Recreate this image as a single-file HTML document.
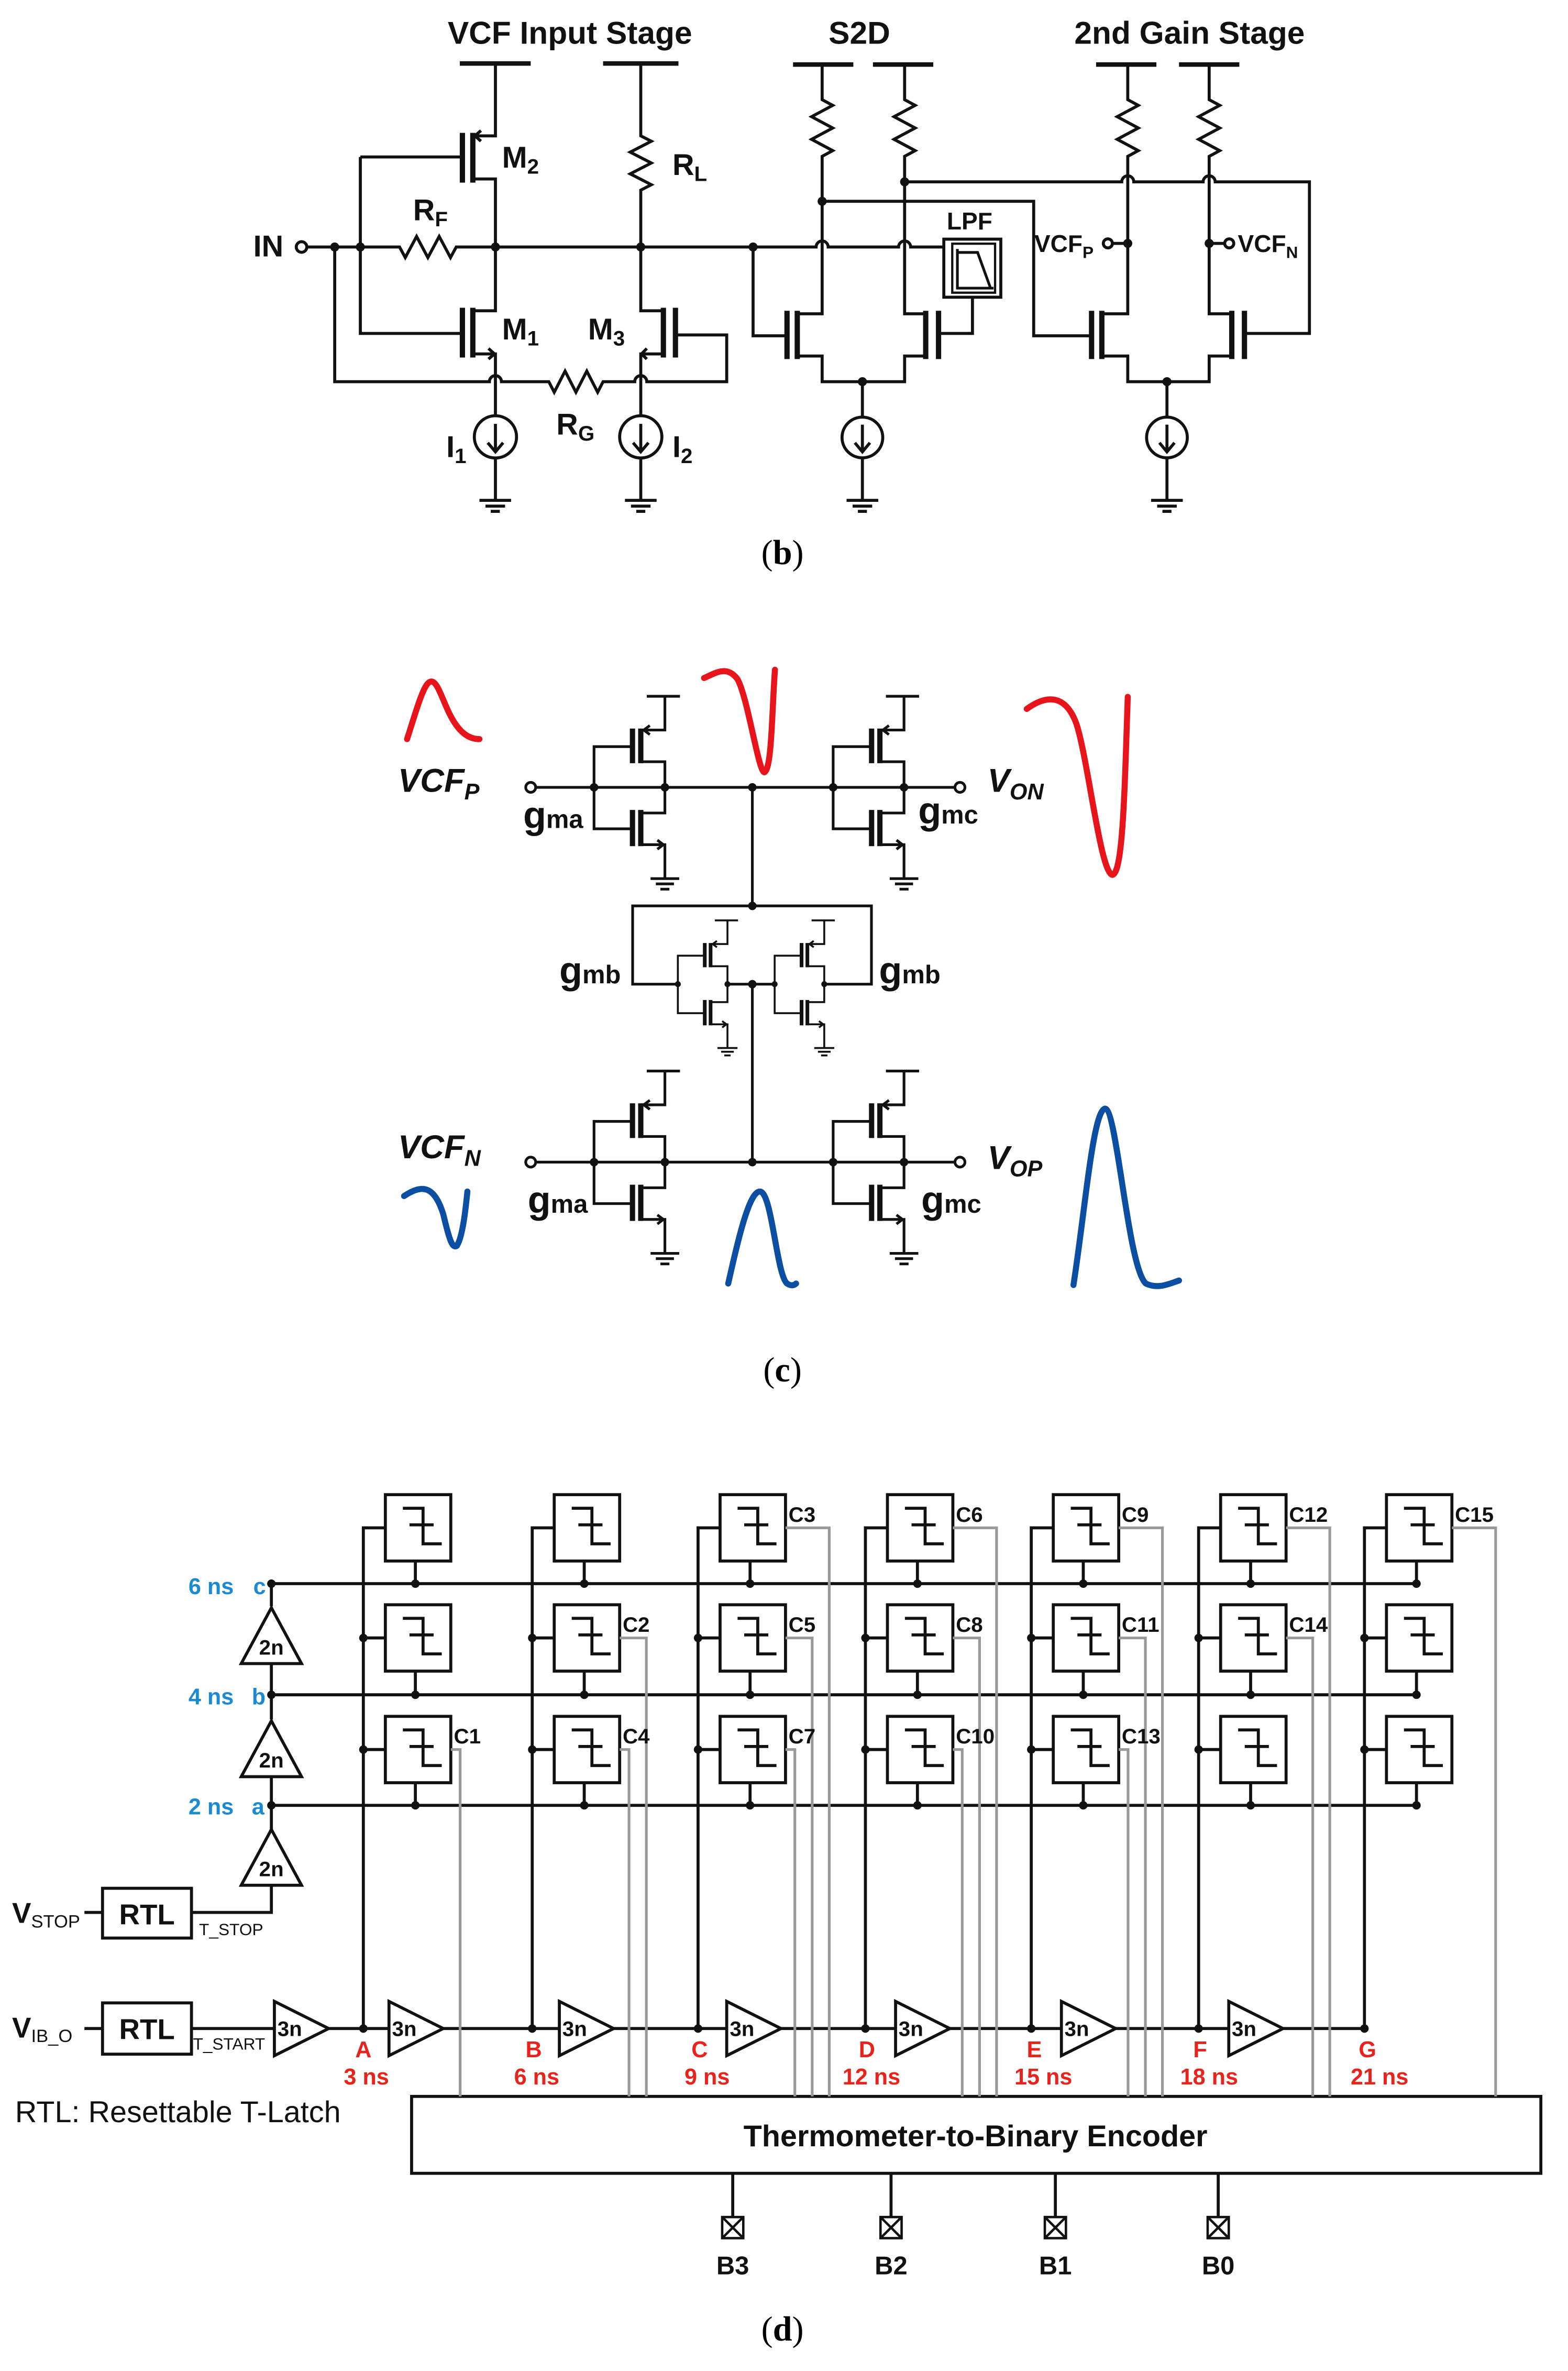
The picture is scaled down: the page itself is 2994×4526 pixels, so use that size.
<!DOCTYPE html>
<html><head><meta charset="utf-8"><style>
html,body{margin:0;padding:0;background:#fff}
svg{display:block}
text{font-family:"Liberation Sans",Arial,sans-serif}
.b{font-weight:bold}
.cap{font-family:"Liberation Serif",serif;font-size:23px}
</style></head><body>
<svg width="2994" height="4526" viewBox="0 0 1040 1572" xmlns="http://www.w3.org/2000/svg">
<defs>
<g id="inv">
 <path d="M-12,-60.4 H10 M0,-60.4 V-38 H-16 M-16,-17 H0 V17 H-16 M-16,38 H0 V60.5 M-21.5,-27 H-47 V27.5 H-21.5 M-9.5,60.5 H9.5 M-6,64 H6 M-3,67.5 H3 M-10,-41 L-14,-38 L-10,-35 M-5,35 L-1,38 L-5,41"/>
 <path d="M-16,-39 V-16 M-21.5,-39 V-16 M-16,15 V39 M-21.5,15 V39" stroke-width="3.5"/>
 <circle cx="0" cy="0" r="2.8" fill="#111" stroke="none"/>
 <circle cx="-47" cy="0" r="2.8" fill="#111" stroke="none"/>
</g>
<g id="lat">
 <rect x="0" y="0" width="43.4" height="44"/>
 <path d="M11.6,9 H25 V32.6 H37.4 M16,20 H32"/>
</g>
<g id="col">
 <path d="M0,1345 V1013 H14.6 M0,1086 H14.6 M0,1160 H14.6 M34.5,1035 V1050 M34.5,1108 V1123.7 M34.5,1182 V1197"/>
 <use href="#lat" x="14.6" y="991"/>
 <use href="#lat" x="14.6" y="1064"/>
 <use href="#lat" x="14.6" y="1138"/>
 <g fill="#111" stroke="none">
 <circle cx="0" cy="1086" r="2.8"/><circle cx="0" cy="1160" r="2.8"/><circle cx="0" cy="1345" r="2.8"/>
 <circle cx="34.5" cy="1050" r="2.8"/><circle cx="34.5" cy="1123.7" r="2.8"/><circle cx="34.5" cy="1197" r="2.8"/>
 </g>
</g>
<polygon id="tri" points="0,-18 36,0 0,18" fill="#fff"/>
<polygon id="trU" points="-20,0 20,0 0,-37" fill="#fff"/>
</defs>

<!-- ===== (b) ===== -->
<g stroke="#111" stroke-width="2" fill="none">
 <path d="M305,42 H352 M400,42 H450 M526,42.7 H566 M579,42.7 H619 M727,42.7 H767 M782,42.7 H822" stroke-width="3"/>
 <!-- M2 -->
 <path d="M328.6,42 V90 H313.6 M313.6,118.6 H328.6 V163.7 M319,86.5 L315,90 L319,93.5"/>
 <path d="M313.6,88 V121 M306.7,88 V121 M313.6,204 V237 M306.7,204 V237 M440,204 V237 M448,204 V237" stroke-width="3.5"/>
 <path d="M239,104 H306.7 M239,104 V221 H306.7"/>
 <!-- M1 -->
 <path d="M328.6,163.7 V206 H313.6 M313.6,234.6 H328.6 V275.6 M324,231 L328,234.6 L324,238"/>
 <circle cx="328.6" cy="289.6" r="14"/>
 <path d="M328.6,281 V299 M323.5,293.5 L328.6,299.5 L333.7,293.5 M328.6,303.6 V331.7 M318,331.7 H339 M322,335.5 H335 M325.5,339 H331.5"/>
 <!-- outer loop -->
 <path d="M222,163.7 V253 H324.6 a4,4 0 0 1 8,0 H364 l3.6,7 l7.2,-14 l7.2,14 l7.2,-14 l7.2,14 l3.6,-7 H421 a4,4 0 0 1 8,0 H482 V222 H448"/>
 <!-- M3 -->
 <path d="M425,163.7 V206 H440 M440,234.6 H425 V275.6 M429,231 L425.5,234.6 L429,238"/>
 <circle cx="425" cy="289.6" r="14"/>
 <path d="M425,281 V299 M419.9,293.5 L425,299.5 L430.1,293.5 M425,303.6 V331.7 M414.5,331.7 H435.5 M418.5,335.5 H431.5 M422,339 H428"/>
 <!-- RL -->
 <path d="M425,42 V90 l7,3.6 l-14,7.2 l14,7.2 l-14,7.2 l14,7.2 l-7,3.6 V163.7"/>
 <!-- main line -->
 <circle cx="200" cy="163.7" r="3.5"/>
 <path d="M203.5,163.7 H265 l3.8,7 l7.5,-14 l7.5,14 l7.5,-14 l7.5,14 l3.8,-7 H541.3 a4,4 0 0 1 8,0 H596 a4,4 0 0 1 8,0 H626"/>
 <!-- S2D -->
 <path d="M545.3,42.7 V66 l7,3.8 l-14,7.5 l14,7.5 l-14,7.5 l14,7.5 l-7,3.8 V208 H528.8 M528.8,236 H545.3 V253 H600 V236 H614 M600,42.7 V66 l7,3.8 l-14,7.5 l14,7.5 l-14,7.5 l14,7.5 l-7,3.8 V208 H614"/>
 <path d="M528.8,206 V238 M522,206 V238 M614,206 V238 M622.5,206 V238" stroke-width="3.5"/>
 <path d="M499.5,163.7 V222.6 H522 M622.5,221 H645 V197 M572,253 V276"/>
 <circle cx="572" cy="290" r="13.5"/>
 <path d="M572,281.5 V299 M567,293.5 L572,299.5 L577,293.5 M572,303.5 V331.7 M561.5,331.7 H582.5 M565.5,335.5 H578.5 M569,339 H575"/>
 <path d="M545.3,133.4 H685.6 V222.6 H724 M600,120.5 H744 a4,4 0 0 1 8,0 H798 a4,4 0 0 1 8,0 H868.5 V221 H825.4"/>
 <rect x="626" y="158.5" width="37.8" height="38.5"/>
 <rect x="631.6" y="161.5" width="28.4" height="32.5" stroke-width="1.5"/>
 <path d="M635,165 V191 H659 M635,167.3 H648.4 L657,191" stroke-width="1.8"/>
 <!-- gain -->
 <path d="M748,42.7 V66 l7,3.8 l-14,7.5 l14,7.5 l-14,7.5 l14,7.5 l-7,3.8 V208 H730.8 M730.8,236 H748 V253 H802 V236 H817 M802,42.7 V66 l7,3.8 l-14,7.5 l14,7.5 l-14,7.5 l14,7.5 l-7,3.8 V208 H817"/>
 <path d="M730.8,206 V238 M724,206 V238 M817,206 V238 M825.4,206 V238" stroke-width="3.5"/>
 <path d="M774,253 V276 M738,161.3 H748 M802,161.3 H812"/>
 <circle cx="774" cy="290" r="13.5"/>
 <path d="M774,281.5 V299 M769,293.5 L774,299.5 L779,293.5 M774,303.5 V331.7 M763.5,331.7 H784.5 M767.5,335.5 H780.5 M771,339 H777"/>
 <circle cx="734.8" cy="161.3" r="3"/><circle cx="815.3" cy="161.3" r="3"/>
 <g fill="#111" stroke="none">
 <circle cx="222" cy="163.7" r="3"/><circle cx="239" cy="163.7" r="3"/><circle cx="328.6" cy="163.7" r="3"/><circle cx="425" cy="163.7" r="3"/><circle cx="499.5" cy="163.7" r="3"/>
 <circle cx="545.3" cy="133.4" r="3"/><circle cx="600" cy="120.5" r="3"/><circle cx="572" cy="253" r="3"/>
 <circle cx="748" cy="161.3" r="3"/><circle cx="802" cy="161.3" r="3"/><circle cx="774" cy="253" r="3"/>
 </g>
</g>
<g class="b" fill="#111">
 <text x="378" y="29" font-size="21" text-anchor="middle">VCF Input Stage</text>
 <text x="570" y="29" font-size="21" text-anchor="middle">S2D</text>
 <text x="789" y="29" font-size="21" text-anchor="middle">2nd Gain Stage</text>
 <text x="168" y="170" font-size="20">IN</text>
 <text x="333" y="111" font-size="20">M<tspan font-size="14" dy="4">2</tspan></text>
 <text x="274" y="146" font-size="20">R<tspan font-size="14" dy="4">F</tspan></text>
 <text x="333" y="225" font-size="20">M<tspan font-size="14" dy="4">1</tspan></text>
 <text x="390" y="225" font-size="20">M<tspan font-size="14" dy="4">3</tspan></text>
 <text x="446" y="116" font-size="20">R<tspan font-size="14" dy="4">L</tspan></text>
 <text x="369" y="288" font-size="20">R<tspan font-size="14" dy="4">G</tspan></text>
 <text x="296" y="303" font-size="20">I<tspan font-size="14" dy="4">1</tspan></text>
 <text x="446" y="303" font-size="20">I<tspan font-size="14" dy="4">2</tspan></text>
 <text x="628" y="152" font-size="16">LPF</text>
 <text x="686" y="167" font-size="16">VCF<tspan font-size="11" dy="4">P</tspan></text>
 <text x="821" y="167" font-size="16">VCF<tspan font-size="11" dy="4">N</tspan></text>
</g>
<text class="cap" x="519" y="374" text-anchor="middle">(<tspan font-weight="bold">b</tspan>)</text>

<!-- ===== (c) ===== -->
<g stroke="#111" stroke-width="1.8" fill="none">
 <use href="#inv" transform="translate(441,522)"/>
 <use href="#inv" transform="translate(599.6,522)"/>
 <use href="#inv" transform="translate(441,770.5)"/>
 <use href="#inv" transform="translate(599.6,770.5)"/>
 <use href="#inv" transform="translate(482.5,652.5) scale(0.7)"/>
 <use href="#inv" transform="translate(546.7,652.5) scale(0.7)"/>
 <circle cx="352" cy="522" r="3.3"/><circle cx="636.7" cy="522" r="3.3"/>
 <circle cx="352" cy="770.5" r="3.3"/><circle cx="636.7" cy="770.5" r="3.3"/>
 <path d="M355.3,522 H633.4 M355.3,770.5 H633.4 M499,522 V600.6 M449.5,652.5 H419.6 V600.6 H578 V652.5 H546.7 M482.5,652.5 H513.7 M499,652.5 V770.5"/>
 <g fill="#111" stroke="none">
  <circle cx="499" cy="522" r="2.8"/><circle cx="499" cy="600.6" r="2.8"/><circle cx="499" cy="652.5" r="2.8"/><circle cx="499" cy="770.5" r="2.8"/>
 </g>
</g>
<g fill="none" stroke-width="4" stroke-linecap="round">
 <path d="M270,490 C278,465 282,450 287,452 C294,455 298,490 318,490" stroke="#e8141b"/>
 <path d="M467,449.5 C475,446 482,441 489,450 C496,462 503,512 507,512 C512,510 512,470 514,444" stroke="#e8141b"/>
 <path d="M681,470 C692,462 706,458 714,480 C722,505 730,580 738,580 C745,578 746,520 748,462" stroke="#e8141b"/>
 <path d="M268,793 C280,785 288,786 294,805 C298,822 300,828 303,826 C307,820 309,800 310,790" stroke="#0b4ea2"/>
 <path d="M483,851 C490,820 497,790 504,790 C512,790 515,845 522,851 C525,853 527,852 528,851" stroke="#0b4ea2"/>
 <path d="M712,852 C720,800 725,736 733,735 C741,736 748,840 760,851 C768,855 776,851 782,849" stroke="#0b4ea2"/>
</g>
<g class="b" fill="#111">
 <text x="264" y="525" font-size="22" font-style="italic">VCF<tspan font-size="15" dy="5">P</tspan></text>
 <text x="264" y="768" font-size="22" font-style="italic">VCF<tspan font-size="15" dy="5">N</tspan></text>
 <text x="655" y="525" font-size="22" font-style="italic">V<tspan font-size="15" dy="5">ON</tspan></text>
 <text x="655" y="775" font-size="22" font-style="italic">V<tspan font-size="15" dy="5">OP</tspan></text>
 <text x="347" y="549" font-size="25">g<tspan font-size="17">ma</tspan></text>
 <text x="609" y="546" font-size="25">g<tspan font-size="17">mc</tspan></text>
 <text x="371" y="652" font-size="25">g<tspan font-size="17">mb</tspan></text>
 <text x="583" y="652" font-size="25">g<tspan font-size="17">mb</tspan></text>
 <text x="350" y="804" font-size="25">g<tspan font-size="17">ma</tspan></text>
 <text x="611" y="804" font-size="25">g<tspan font-size="17">mc</tspan></text>
</g>
<text class="cap" x="519" y="916" text-anchor="middle">(<tspan font-weight="bold">c</tspan>)</text>

<!-- ===== (d) ===== -->
<g stroke="#111" stroke-width="2" fill="none">
 <path d="M180,1050 H942 M180,1123.7 H942 M180,1197 H942"/>
 <use href="#col" x="241"/><use href="#col" x="353"/><use href="#col" x="463"/><use href="#col" x="574"/>
 <use href="#col" x="684"/><use href="#col" x="795"/><use href="#col" x="905"/>
 <path d="M180,1050 V1065 M180,1103 V1140 M180,1178 V1213 M180,1250 V1268 H127"/>
 <use href="#trU" x="180" y="1103"/><use href="#trU" x="180" y="1178"/><use href="#trU" x="180" y="1250"/>
 <path d="M127,1345 H905 M56,1268 H68 M56,1345 H68"/>
 <use href="#tri" x="182" y="1345"/><use href="#tri" x="258" y="1345"/><use href="#tri" x="371" y="1345"/>
 <use href="#tri" x="482" y="1345"/><use href="#tri" x="594" y="1345"/><use href="#tri" x="704" y="1345"/><use href="#tri" x="815" y="1345"/>
 <rect x="68" y="1252" width="59" height="33"/>
 <rect x="68" y="1328" width="59" height="34"/>
 <rect x="273" y="1390" width="749" height="51"/>
 <path d="M486,1441 V1470 M591,1441 V1470 M700,1441 V1470 M808,1441 V1470"/>
 <g stroke-width="1.6">
 <rect x="479" y="1470" width="14" height="14"/><path d="M479,1470 l14,14 M493,1470 l-14,14"/>
 <rect x="584" y="1470" width="14" height="14"/><path d="M584,1470 l14,14 M598,1470 l-14,14"/>
 <rect x="693" y="1470" width="14" height="14"/><path d="M693,1470 l14,14 M707,1470 l-14,14"/>
 <rect x="801" y="1470" width="14" height="14"/><path d="M801,1470 l14,14 M815,1470 l-14,14"/>
 </g>
 <g fill="#111" stroke="none"><circle cx="180" cy="1050" r="2.8"/><circle cx="180" cy="1123.7" r="2.8"/><circle cx="180" cy="1197" r="2.8"/></g>
</g>
<g stroke="#999" stroke-width="1.8" fill="none">
 <path d="M299,1160 H305.2 V1390 M411,1086 H428.7 V1390 M521,1013 H550 V1390 M411,1160 H417.2 V1390 M521,1086 H538.7 V1390 M632,1013 H661 V1390 M521,1160 H527.2 V1390 M632,1086 H649.7 V1390 M742,1013 H771 V1390 M632,1160 H638.2 V1390 M742,1086 H759.7 V1390 M853,1013 H882 V1390 M742,1160 H748.2 V1390 M853,1086 H870.7 V1390 M963,1013 H992 V1390"/>
</g>
<g class="b" fill="#111" font-size="14">
 <text x="301" y="1156">C1</text><text x="413" y="1082">C2</text><text x="523" y="1009">C3</text>
 <text x="413" y="1156">C4</text><text x="523" y="1082">C5</text><text x="634" y="1009">C6</text>
 <text x="523" y="1156">C7</text><text x="634" y="1082">C8</text><text x="744" y="1009">C9</text>
 <text x="634" y="1156">C10</text><text x="744" y="1082">C11</text><text x="855" y="1009">C12</text>
 <text x="744" y="1156">C13</text><text x="855" y="1082">C14</text><text x="965" y="1009">C15</text>
 <text x="180" y="1097" text-anchor="middle">2n</text><text x="180" y="1172" text-anchor="middle">2n</text><text x="180" y="1244" text-anchor="middle">2n</text>
 <text x="184" y="1350">3n</text><text x="260" y="1350">3n</text><text x="373" y="1350">3n</text><text x="484" y="1350">3n</text>
 <text x="596" y="1350">3n</text><text x="706" y="1350">3n</text><text x="817" y="1350">3n</text>
 <text x="97.5" y="1276" text-anchor="middle" font-size="19">RTL</text>
 <text x="97.5" y="1352" text-anchor="middle" font-size="19">RTL</text>
 <text x="647" y="1423" text-anchor="middle" font-size="20">Thermometer-to-Binary Encoder</text>
 <text x="486" y="1508" text-anchor="middle" font-size="17">B3</text>
 <text x="591" y="1508" text-anchor="middle" font-size="17">B2</text>
 <text x="700" y="1508" text-anchor="middle" font-size="17">B1</text>
 <text x="808" y="1508" text-anchor="middle" font-size="17">B0</text>
 <text x="8" y="1275" font-size="19">V<tspan font-size="12" font-weight="normal" dy="3">STOP</tspan></text>
 <text x="8" y="1351" font-size="19">V<tspan font-size="12" font-weight="normal" dy="3">IB_O</tspan></text>
</g>
<g fill="#111" font-size="11">
 <text x="132" y="1283">T_STOP</text>
 <text x="128" y="1359">T_START</text>
</g>
<text x="10" y="1407" font-size="20" fill="#111">RTL: Resettable T-Latch</text>
<g class="b" fill="#1b8ad3" font-size="15">
 <text x="125" y="1057">6 ns</text><text x="168" y="1057">c</text>
 <text x="125" y="1130">4 ns</text><text x="167" y="1130">b</text>
 <text x="125" y="1203">2 ns</text><text x="167" y="1203">a</text>
</g>
<g class="b" fill="#e8231b" font-size="15" text-anchor="middle">
 <text x="241" y="1364">A</text><text x="243" y="1382">3 ns</text>
 <text x="354" y="1364">B</text><text x="356" y="1382">6 ns</text>
 <text x="464" y="1364">C</text><text x="469" y="1382">9 ns</text>
 <text x="575" y="1364">D</text><text x="578" y="1382">12 ns</text>
 <text x="686" y="1364">E</text><text x="692" y="1382">15 ns</text>
 <text x="796" y="1364">F</text><text x="802" y="1382">18 ns</text>
 <text x="907" y="1364">G</text><text x="915" y="1382">21 ns</text>
</g>
<text class="cap" x="519" y="1552" text-anchor="middle">(<tspan font-weight="bold">d</tspan>)</text>
</svg>
</body></html>
